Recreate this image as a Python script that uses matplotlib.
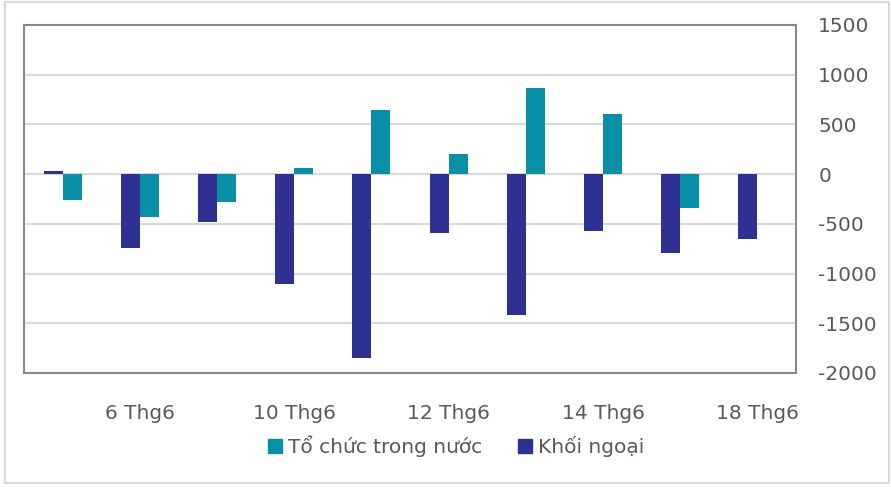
import numpy as np
import matplotlib
matplotlib.use('Agg')
import matplotlib.pyplot as plt
import matplotlib.patches as mpatches

# data
dates = ['5 Thg6', '6 Thg6', '7 Thg6', '10 Thg6', '11 Thg6',
         '12 Thg6', '13 Thg6', '14 Thg6', '17 Thg6', '18 Thg6']
khoi_ngoai = [30, -745, -480, -1105, -1845, -590, -1415, -575, -790, -655]
to_chuc = [-260, -430, -280, 60, 650, 205, 870, 605, -340, 0]
yticks = [1500, 1000, 500, 0, -500, -1000, -1500, -2000]

c_blue = '#2E3192'
c_teal = '#0A90A6'
c_text = '#595959'
c_grid = '#D9D9D9'
c_spine = '#898989'

plt.rcParams['font.family'] = ['DejaVu Sans']

fig = plt.figure(figsize=(8.91, 4.87), dpi=100)
# outer chart frame
fig.patches.append(mpatches.Rectangle((5/891, 4/487), 884/891, 481/487,
                                      transform=fig.transFigure, fill=False,
                                      ec=c_grid, lw=1.5))

ax = fig.add_axes([24/891, 1-373/487, 772/891, 348/487])

x = np.arange(len(dates))
w = 0.245
ax.bar(x - w/2, khoi_ngoai, w, color=c_blue, lw=0,
       label='Khối ngoại', zorder=3)
ax.bar(x + w/2, to_chuc, w, color=c_teal, lw=0,
       label='Tổ chức trong nước', zorder=3)

ax.set_xlim(-0.5, len(dates) - 0.5)
ax.set_ylim(-2000, 1500)
ax.set_yticks(yticks)
ax.set_yticklabels([str(v) for v in yticks])
ax.yaxis.tick_right()
ax.yaxis.grid(True, color=c_grid, lw=1.5, zorder=0)

show = [1, 3, 5, 7, 9]
ax.set_xticks(x[show])
ax.set_xticklabels([dates[i] for i in show])
ax.tick_params(axis='both', length=0, labelsize=14.5, colors=c_text)
ax.tick_params(axis='y', pad=16)
ax.tick_params(axis='x', pad=22)

for s in ax.spines.values():
    s.set_color(c_spine)
    s.set_linewidth(1.5)

h_teal = mpatches.Patch(color=c_teal)
h_blue = mpatches.Patch(color=c_blue)
fig.legend([h_teal, h_blue], ['Tổ chức trong nước', 'Khối ngoại'],
           loc='center', bbox_to_anchor=(0.512, 1-446/487), ncol=2,
           frameon=False, fontsize=14.5, labelcolor=c_text,
           handlelength=0.7, handleheight=0.7, handletextpad=0.3,
           columnspacing=1.8)

fig.savefig('out.png', dpi=100)
